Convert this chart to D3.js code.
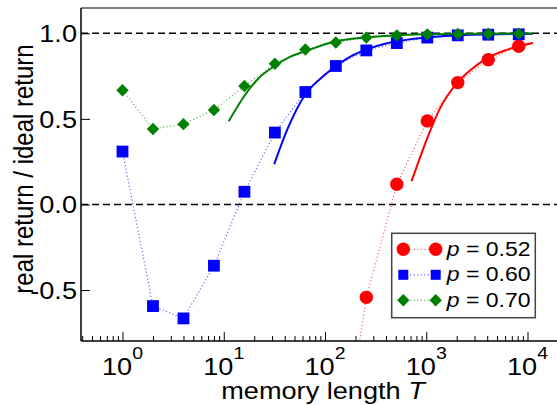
<!DOCTYPE html>
<html>
<head>
<meta charset="utf-8">
<script src="https://cdn.jsdelivr.net/npm/d3@7"></script>
<style>
body { margin: 0; background: #fff; }
</style>
</head>
<body>
<div id="chart"></div>
<script>
// measured points (memory length T)
var memT = [1, 2, 4, 8, 16, 32, 64, 128, 256, 512, 1024, 2048, 4096, 8192];
var p70 = [0.667, 0.441, 0.469, 0.552, 0.692, 0.822, 0.905, 0.946, 0.975, 0.988, 0.994, 0.996, 0.997, 0.998];
var p60 = [0.309, -0.594, -0.666, -0.358, 0.074, 0.42, 0.657, 0.809, 0.90, 0.943, 0.975, 0.988, 0.992, 0.994];
var memT52 = [128, 256, 512, 1024, 2048, 4096, 8192];
var p52 = [-1.7, -0.543, 0.118, 0.488, 0.712, 0.846, 0.924];

// asymptotic curves
var thT70 = [11.2, 15.6, 22.8, 32, 45, 64, 120, 250, 500, 1000, 3000, 11300];
var th70 = [0.486, 0.625, 0.745, 0.81, 0.862, 0.895, 0.949, 0.976, 0.988, 0.994, 0.998, 0.9995];
var thT60 = [31.5, 43.3, 63.2, 90, 125, 180, 256, 400, 700, 1500, 4000, 11300];
var th60 = [0.235, 0.45, 0.638, 0.735, 0.803, 0.865, 0.905, 0.94, 0.966, 0.984, 0.994, 0.998];
var thT52 = [716, 1020, 1362, 1991, 2800, 3937, 6000, 11300];
var th52 = [0.136, 0.385, 0.56, 0.706, 0.79, 0.852, 0.9, 0.943];

var yTicks = [1.0, 0.5, 0.0, -0.5];
var yTickLabels = ["1.0", "0.5", "0.0", "-0.5"];
var xMajor = [1, 10, 100, 1000, 10000];
var xExp = ["0", "1", "2", "3", "4"];
var legendLabels = ["0.52", "0.60", "0.70"];

var W = 557, H = 405;
var plotL = 81, plotT = 8, plotB = 341, plotR = 566;
var STRETCH = 1.18;

var svg = d3.select("#chart").append("svg")
        .attr("width", W)
        .attr("height", H)
        .attr("font-family", "'Liberation Sans', Arial, sans-serif");

var x = d3.scaleLog().domain([1, 1e4]).range([122.5, 527.5]);
var y = d3.scaleLinear().domain([-0.5, 1]).range([290, 33.3]);

svg.append("clipPath").attr("id", "clip")
    .append("rect")
    .attr("x", plotL).attr("y", plotT)
    .attr("width", plotR - plotL).attr("height", plotB - plotT);

// stretched text helper
function txt(g, px, py, s, size, anchor) {
    return g.append("text")
        .attr("transform", "translate(" + px + "," + py + ") scale(" + STRETCH + ",1)")
        .attr("text-anchor", anchor)
        .attr("font-size", size)
        .attr("fill", "#000")
        .text(s);
}

// reference lines
var plot = svg.append("g").attr("clip-path", "url(#clip)");
[1, 0].forEach(function (v) {
    plot.append("line")
        .attr("x1", plotL).attr("x2", plotR)
        .attr("y1", y(v)).attr("y2", y(v))
        .attr("stroke", "#000")
        .attr("stroke-width", 1.5)
        .attr("stroke-dasharray", "7,4");
});

var line = d3.line()
        .x(function (d) { return x(d[0]); })
        .y(function (d) { return y(d[1]); });
var smooth = d3.line()
        .x(function (d) { return x(d[0]); })
        .y(function (d) { return y(d[1]); })
        .curve(d3.curveMonotoneX);

var series = [
    {ts: memT52, vs: p52, tt: thT52, tv: th52, color: "#ff0000", shape: "circle"},
    {ts: memT, vs: p60, tt: thT60, tv: th60, color: "#0000ff", shape: "square"},
    {ts: memT, vs: p70, tt: thT70, tv: th70, color: "#008000", shape: "diamond"}
];

function marker(g, shape, color, px, py, small) {
    if (shape === "circle") {
        g.append("circle").attr("cx", px).attr("cy", py).attr("r", 6.7).attr("fill", color);
    } else if (shape === "square") {
        var h = small ? 5 : 5.9;
        g.append("rect").attr("x", px - h).attr("y", py - h)
            .attr("width", 2 * h).attr("height", 2 * h).attr("fill", color);
    } else {
        var s = 6.2;
        g.append("path")
            .attr("d", "M" + px + "," + (py - s) + "L" + (px + s) + "," + py +
                "L" + px + "," + (py + s) + "L" + (px - s) + "," + py + "Z")
            .attr("fill", color);
    }
}

series.forEach(function (s) {
    var pts = s.ts.map(function (t, i) { return [t, s.vs[i]]; });
    plot.append("path")
        .attr("d", line(pts))
        .attr("fill", "none")
        .attr("stroke", s.color)
        .attr("stroke-opacity", 0.7)
        .attr("stroke-width", 1.2)
        .attr("stroke-dasharray", "1,2.5");
    var th = s.tt.map(function (t, i) { return [t, s.tv[i]]; });
    plot.append("path")
        .attr("d", smooth(th))
        .attr("fill", "none")
        .attr("stroke", s.color)
        .attr("stroke-width", 2);
});
series.forEach(function (s) {
    s.ts.forEach(function (t, i) {
        marker(plot, s.shape, s.color, x(t), y(s.vs[i]), false);
    });
});

// frame
svg.append("line").attr("x1", plotL).attr("x2", plotR).attr("y1", plotT).attr("y2", plotT)
    .attr("stroke", "#808080").attr("stroke-width", 2);
svg.append("line").attr("x1", plotL).attr("x2", plotL).attr("y1", plotT).attr("y2", plotB)
    .attr("stroke", "#000").attr("stroke-width", 1.5);
svg.append("line").attr("x1", plotL).attr("x2", plotR).attr("y1", plotB).attr("y2", plotB)
    .attr("stroke", "#000").attr("stroke-width", 1.5);

// x ticks (inward)
var minor = [];
for (var d = -1; d <= 4; d++) {
    for (var k = 2; k <= 9; k++) {
        var v = k * Math.pow(10, d);
        if (x(v) > plotL + 1 && x(v) < W) minor.push(v);
    }
}
svg.append("g")
    .attr("transform", "translate(0," + plotB + ")")
    .call(d3.axisBottom(x).tickValues(minor).tickSize(-5).tickFormat(""));
svg.append("g")
    .attr("transform", "translate(0," + plotB + ")")
    .call(d3.axisBottom(x).tickValues(xMajor).tickSize(-9).tickFormat(""));

// y ticks (inward)
svg.append("g")
    .attr("transform", "translate(" + plotL + ",0)")
    .call(d3.axisLeft(y).tickValues(yTicks).tickSize(-9).tickFormat(""));

svg.selectAll(".domain").remove();
svg.selectAll(".tick line").attr("stroke", "#000").attr("stroke-width", 1);
svg.selectAll(".tick text").remove();

xMajor.forEach(function (v, i) {
    var t = txt(svg, x(v), 375, "10", 23, "middle");
    t.append("tspan").attr("font-size", 16.5).attr("dy", -15.7).text(xExp[i]);
});

yTicks.forEach(function (v, i) {
    txt(svg, 77, y(v) + 9, yTickLabels[i], 23, "end");
});

// axis titles
var xl = txt(svg, 323, 399, "memory length ", 23, "middle");
xl.append("tspan").attr("font-style", "italic").text("T");

svg.append("text")
    .attr("transform", "translate(33,169) scale(" + STRETCH + ",1) rotate(-90)")
    .attr("text-anchor", "middle")
    .attr("font-size", 24)
    .text("real return / ideal return");

// legend
var lg = svg.append("g");
lg.append("rect")
    .attr("x", 391.7).attr("y", 233.3)
    .attr("width", 143.6).attr("height", 84.4)
    .attr("fill", "#fff")
    .attr("stroke", "#444")
    .attr("stroke-width", 1.5);
series.forEach(function (s, i) {
    var ry = 249.3 + i * 25.5;
    lg.append("line")
        .attr("x1", 403.3).attr("x2", 435.7)
        .attr("y1", ry).attr("y2", ry)
        .attr("stroke", s.color)
        .attr("stroke-opacity", 0.7)
        .attr("stroke-width", 1.2)
        .attr("stroke-dasharray", "1,2.5");
    marker(lg, s.shape, s.color, 403.3, ry, true);
    marker(lg, s.shape, s.color, 435.7, ry, true);
    var t = txt(lg, 446.7, ry + 6.5, "", 19.5, "start");
    t.append("tspan").attr("font-style", "italic").text("p");
    t.append("tspan").text(" = " + legendLabels[i]);
});
</script>
</body>
</html>
